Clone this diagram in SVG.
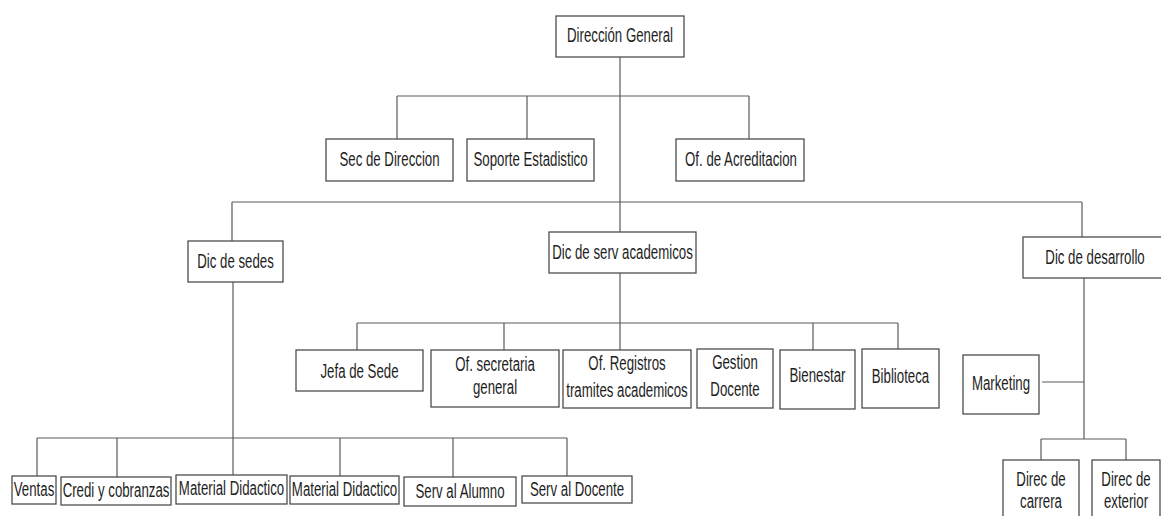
<svg xmlns="http://www.w3.org/2000/svg" width="1161" height="516" viewBox="0 0 1161 516">
  <style>
    .box { fill: #ffffff; stroke: #4d4d4d; stroke-width: 1.3; }
    .ln { fill: none; stroke: #5a5a5a; stroke-width: 1.2; }
    .t { font-family: "Liberation Sans", Arial, sans-serif; font-size: 19.5px; fill: #1e1e1e; text-anchor: middle; }
  </style>
  <rect width="1161" height="516" fill="#ffffff"/>

  <!-- connectors -->
  <g id="connectors" class="ln">
    <!-- trunk from the top -->
    <path d="M620 57 V232"/>
    <path d="M397 96 H749 M397 96 V139 M527 96 V139 M749 96 V139"/>
    <!-- second level bar -->
    <path d="M232 202 H1082 M232 202 V241 M1082 202 V237"/>
    <!-- Dic de sedes branch -->
    <path d="M233 282 V475"/>
    <path d="M37 438 H567 M37 438 V476 M117 438 V477 M340 438 V476 M453 438 V477 M567 438 V476"/>
    <!-- Dic de serv academicos branch -->
    <path d="M620 273 V350"/>
    <path d="M357 323 H898 M357 323 V350 M504 323 V350 M813 323 V350 M898 323 V349"/>
    <!-- Dic de desarrollo branch -->
    <path d="M1084 278 V439 M1042 382 H1084"/>
    <path d="M1041 439 H1126 M1041 439 V460 M1126 439 V460"/>
  </g>

  <!-- level 0 -->
  <g id="direccion-general">
    <rect class="box" x="556" y="16" width="128" height="41"/>
    <text class="t" transform="translate(620 42) scale(0.68 1)">Dirección General</text>
  </g>

  <!-- staff offices -->
  <g id="sec-direccion">
    <rect class="box" x="326" y="139" width="127" height="42"/>
    <text class="t" transform="translate(389.5 166) scale(0.68 1)">Sec de Direccion</text>
  </g>
  <g id="soporte-estadistico">
    <rect class="box" x="467" y="139" width="127" height="42"/>
    <text class="t" transform="translate(530.5 166) scale(0.68 1)">Soporte Estadistico</text>
  </g>
  <g id="of-acreditacion">
    <rect class="box" x="676" y="139" width="128" height="42"/>
    <text class="t" transform="translate(741 166) scale(0.68 1)">Of. de Acreditacion</text>
  </g>

  <!-- directorates -->
  <g id="dic-sedes">
    <rect class="box" x="188" y="241" width="95" height="41"/>
    <text class="t" transform="translate(235.5 268) scale(0.68 1)">Dic de sedes</text>
  </g>
  <g id="dic-serv-academicos">
    <rect class="box" x="549" y="232" width="147" height="41"/>
    <text class="t" transform="translate(622.5 259) scale(0.68 1)">Dic de serv academicos</text>
  </g>
  <g id="dic-desarrollo">
    <rect class="box" x="1023" y="237" width="140" height="41"/>
    <text class="t" transform="translate(1095 264) scale(0.68 1)">Dic de desarrollo</text>
  </g>

  <!-- academic services units -->
  <g id="jefa-sede">
    <rect class="box" x="296" y="350" width="127" height="41"/>
    <text class="t" transform="translate(359.5 378) scale(0.68 1)">Jefa de Sede</text>
  </g>
  <g id="of-secretaria">
    <rect class="box" x="431" y="350" width="128" height="57"/>
    <text class="t" transform="translate(495 0) scale(0.68 1)"><tspan x="0" y="371">Of. secretaria</tspan><tspan x="0" y="394">general</tspan></text>
  </g>
  <g id="of-registros">
    <rect class="box" x="563" y="350" width="128" height="58"/>
    <text class="t" transform="translate(627 0) scale(0.68 1)"><tspan x="0" y="370">Of. Registros</tspan><tspan x="0" y="397">tramites academicos</tspan></text>
  </g>
  <g id="gestion-docente">
    <rect class="box" x="697" y="349" width="76" height="59"/>
    <text class="t" transform="translate(735 0) scale(0.68 1)"><tspan x="0" y="369">Gestion</tspan><tspan x="0" y="396">Docente</tspan></text>
  </g>
  <g id="bienestar">
    <rect class="box" x="780" y="350" width="75" height="59"/>
    <text class="t" transform="translate(817.5 382) scale(0.68 1)">Bienestar</text>
  </g>
  <g id="biblioteca">
    <rect class="box" x="862" y="349" width="77" height="59"/>
    <text class="t" transform="translate(900.5 383) scale(0.68 1)">Biblioteca</text>
  </g>

  <!-- development units -->
  <g id="marketing">
    <rect class="box" x="963" y="355" width="76" height="59"/>
    <text class="t" transform="translate(1001 390) scale(0.68 1)">Marketing</text>
  </g>
  <g id="direc-carrera">
    <rect class="box" x="1003" y="460" width="76" height="62"/>
    <text class="t" transform="translate(1041 0) scale(0.68 1)"><tspan x="0" y="486">Direc de</tspan><tspan x="0" y="508">carrera</tspan></text>
  </g>
  <g id="direc-exterior">
    <rect class="box" x="1092" y="460" width="68" height="62"/>
    <text class="t" transform="translate(1126 0) scale(0.68 1)"><tspan x="0" y="486">Direc de</tspan><tspan x="0" y="508">exterior</tspan></text>
  </g>

  <!-- campus units -->
  <g id="ventas">
    <rect class="box" x="12" y="476" width="44" height="28"/>
    <text class="t" transform="translate(34 496) scale(0.68 1)">Ventas</text>
  </g>
  <g id="credi-cobranzas">
    <rect class="box" x="61" y="477" width="110" height="28"/>
    <text class="t" transform="translate(116 497) scale(0.68 1)">Credi y cobranzas</text>
  </g>
  <g id="material-didactico-1">
    <rect class="box" x="176" y="475" width="111" height="29"/>
    <text class="t" transform="translate(231.5 495) scale(0.68 1)">Material Didactico</text>
  </g>
  <g id="material-didactico-2">
    <rect class="box" x="290" y="476" width="109" height="28"/>
    <text class="t" transform="translate(344.5 496) scale(0.68 1)">Material Didactico</text>
  </g>
  <g id="serv-alumno">
    <rect class="box" x="404" y="477" width="112" height="29"/>
    <text class="t" transform="translate(460 498) scale(0.68 1)">Serv al Alumno</text>
  </g>
  <g id="serv-docente">
    <rect class="box" x="522" y="476" width="110" height="27"/>
    <text class="t" transform="translate(577 496) scale(0.68 1)">Serv al Docente</text>
  </g>
</svg>
